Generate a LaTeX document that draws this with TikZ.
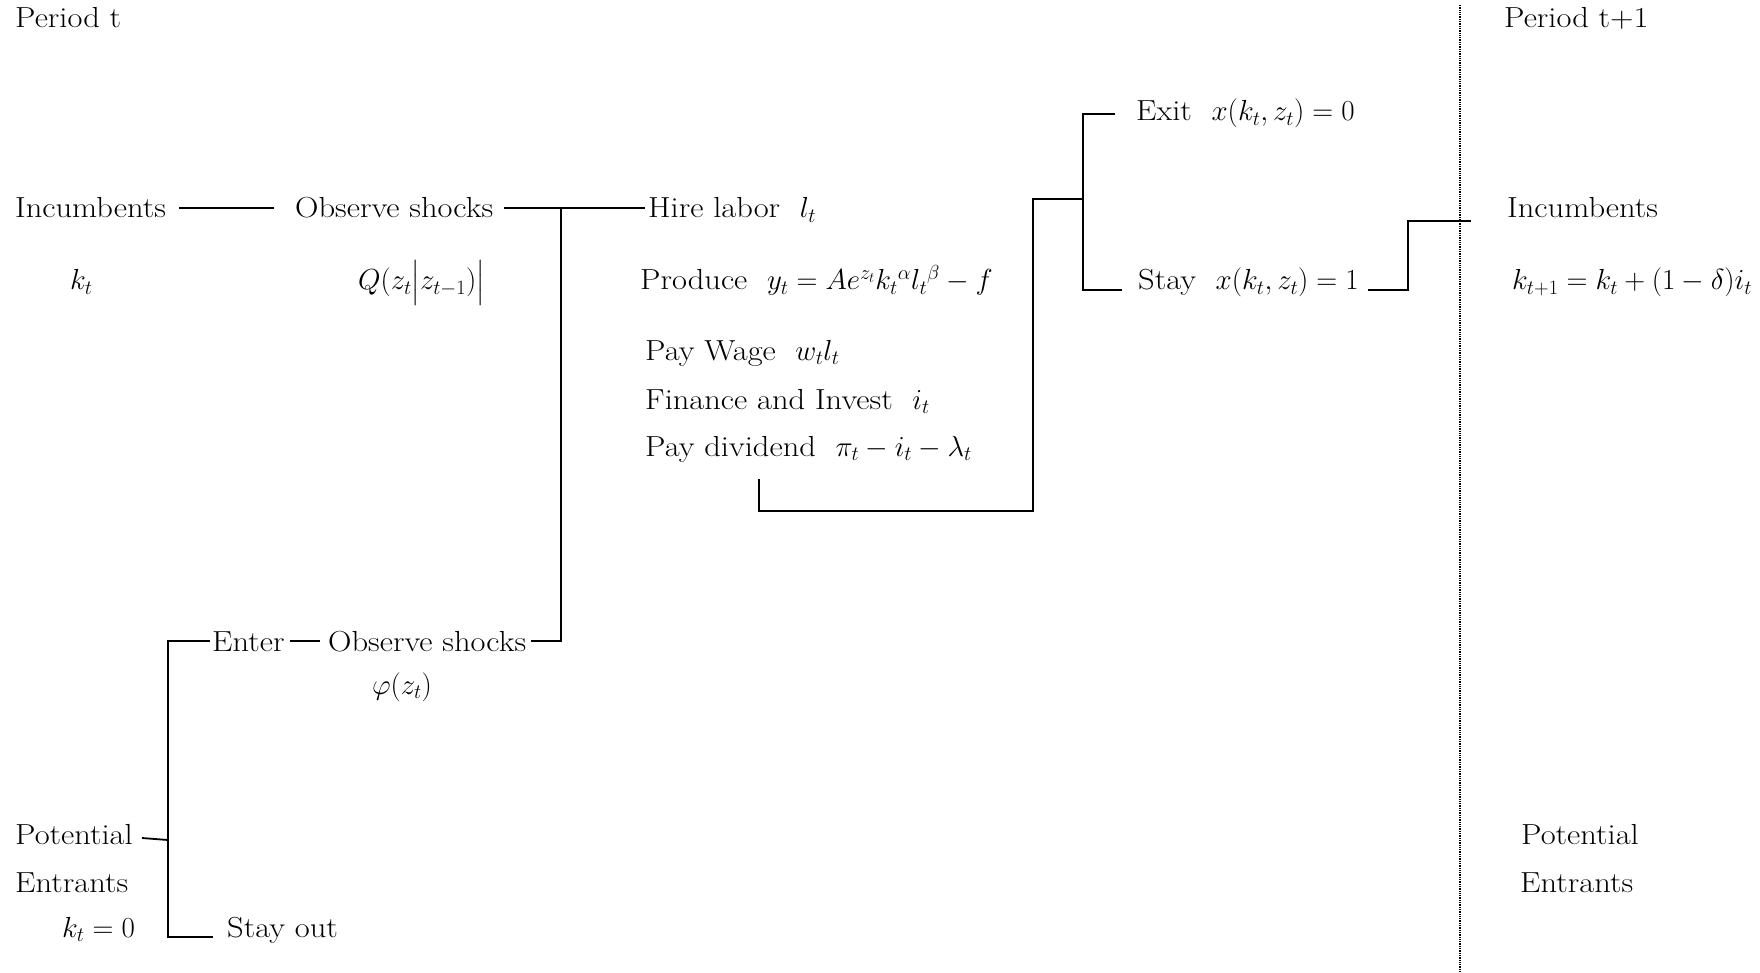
\documentclass[tikz,border=0pt]{standalone}
\usepackage{fix-cm}
\usepackage{amsmath}
\usepackage{fontspec}
\setmainfont{Latin Modern Roman}[FakeStretch=1.12]
\begin{document}
\begin{tikzpicture}[x=1pt,y=-1pt,
  every node/.style={font=\fontsize{29}{35}\selectfont, inner sep=0pt, anchor=base west},
  conn/.style={line width=1.8pt, line join=miter},
  divider/.style={densely dotted, line width=1.3pt}]
\useasboundingbox (0,0) rectangle (1760,973);
% headers
\node (per1) at (15,28) {Period t};
\node (per2) at (1504,28) {Period t+1};
% incumbents row
\node (inc) at (15,218) {Incumbents};
\node (obs1) at (295,218) {Observe shocks};
\node (hire) at (648,218) {Hire labor\ \ $l_t$};
\node (kt) at (70,290) {$k_t$};
\node (Q) at (358,290) {$Q(z_t\big|z_{t-1})\big|$};
\node (prod) at (640,290) {Produce\ \ $y_t = Ae^{z_t}k_t{}^{\alpha} l_t{}^{\beta} - f$};
\node (wage) at (645,360) {Pay Wage\ \ $w_t l_t$};
\node (fin) at (645,409) {Finance and Invest\ \ $i_t$};
\node (div) at (645,456) {Pay dividend\ \ $\pi_t - i_t - \lambda_t$};
\node (exit) at (1136,121) {Exit\ \ $x(k_t, z_t) = 0$};
\node (stay) at (1138,290) {Stay\ \ $x(k_t, z_t) = 1$};
\node (inc2) at (1507,218) {Incumbents};
\node (knext) at (1512,290) {$k_{t+1} = k_t + (1-\delta)i_t$};
% entrants
\node (enter) at (212,651) {Enter};
\node (obs2) at (328,651) {Observe shocks};
\node[anchor=base] (phi) at (402,694) {$\varphi(z_t)$};
\node (pot) at (15,844) {Potential};
\node (entr) at (15,892) {Entrants};
\node (k0) at (62,937) {$k_t = 0$};
\node (stayout) at (227,937) {Stay out};
\node (pot2) at (1521,844) {Potential};
\node (entr2) at (1520,892) {Entrants};
% junction coordinates
\coordinate (j1) at (561,210);
\coordinate (d1) at (759,479);
\coordinate (d2) at (759,511);
\coordinate (d3) at (1033,511);
\coordinate (d4) at (1033,199);
\coordinate (j2) at (1083,199);
\coordinate (j3) at (1408,221);
\coordinate (j4) at (168,840);
% connectors
\draw[conn] ([xshift=13pt]inc.east) -- ([xshift=-21pt]obs1.west |- inc.east);
\draw[conn] ([xshift=11pt]obs1.east) -- ([xshift=-3pt]hire.west |- obs1.east);
\draw[conn] (j1 |- obs1.east) -- (j1 |- obs2.east) -- ([xshift=5pt]obs2.east);
\draw[conn] (d1) -- (d2) -- (d3) -- (d4) -- (j2);
\draw[conn] ([xshift=-21pt]exit.west) -| (j2) |- ([xshift=-16pt]stay.base west);
\draw[conn] ([xshift=9pt]stay.base east) -| (j3) -- ([xshift=-36pt]inc2.west |- j3);
\draw[conn] ([xshift=9pt,yshift=6pt]pot.base east) -- (j4);
\draw[conn] ([xshift=-2pt]enter.west) -| (j4) |- ([xshift=-14pt]stayout.base west);
\draw[conn] ([xshift=5pt]enter.east) -- ([xshift=-8pt]obs2.west |- enter.east);
% period divider
\draw[divider] (1460,5) -- (1460,973);
\end{tikzpicture}
\end{document}
